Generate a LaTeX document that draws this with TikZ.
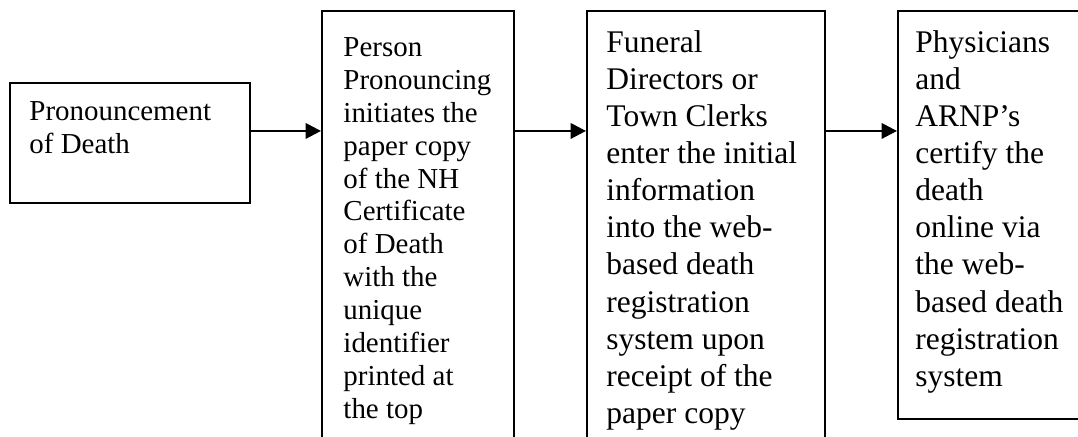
\documentclass[tikz,border=0pt]{standalone}
\usepackage{fontspec}
\setmainfont{Liberation Serif}
\usetikzlibrary{positioning,calc,arrows.meta}

\newlength{\du}
\setlength{\du}{0.4286pt}

\tikzset{
  box/.style={draw, line width=2.4\du, anchor=north west, inner sep=0pt},
  smalltext/.style={font=\fontsize{12.4}{14.1}\selectfont, align=left, inner sep=0pt},
  bigtext/.style={font=\fontsize{13.5}{15.9}\selectfont, align=left, inner sep=0pt},
  flow/.style={line width=2.4\du, -{Triangle[length=6.6pt,width=6.6pt]}}
}

\begin{document}
\begin{tikzpicture}[x=\du,y=-\du]
\useasboundingbox (0,0) rectangle (1078,437);
\clip (0,0) rectangle (1078,437);
% boxes
\node[box, minimum width=240\du, minimum height=120\du] (b1) at (9,82) {};
\node[box, minimum width=192\du, minimum height=460\du] (b2) at (321,10) {};
\node[box, minimum width=238\du, minimum height=460\du] (b3) at (586,10) {};
\node[box, minimum width=200\du, minimum height=408\du] (b4) at (897,10) {};
% texts
\node[smalltext, below right=19\du and 20\du of b1.north west] (t1)
  {Pronouncement\\of Death};
\node[smalltext, below right=27\du and 22\du of b2.north west] (t2)
  {Person\\Pronouncing\\initiates the\\paper copy\\of the NH\\Certificate\\of Death\\with the\\unique\\identifier\\printed at\\the top};
\node[bigtext, below right=20\du and 20\du of b3.north west] (t3)
  {Funeral\\Directors or\\Town Clerks\\enter the initial\\information\\into the web-\\based death\\registration\\system upon\\receipt of the\\paper copy};
\node[bigtext, below right=20\du and 18\du of b4.north west] (t4)
  {Physicians\\and\\ARNP’s\\certify the\\death\\online via\\the web-\\based death\\registration\\system};
% arrows
\coordinate (a1) at ($(b1.north east)!0.4!(b1.south east)$);
\draw[flow] (a1) -- (a1 -| b2.west);
\draw[flow] (a1 -| b2.east) -- (a1 -| b3.west);
\draw[flow] (a1 -| b3.east) -- (a1 -| b4.west);
\end{tikzpicture}
\end{document}
